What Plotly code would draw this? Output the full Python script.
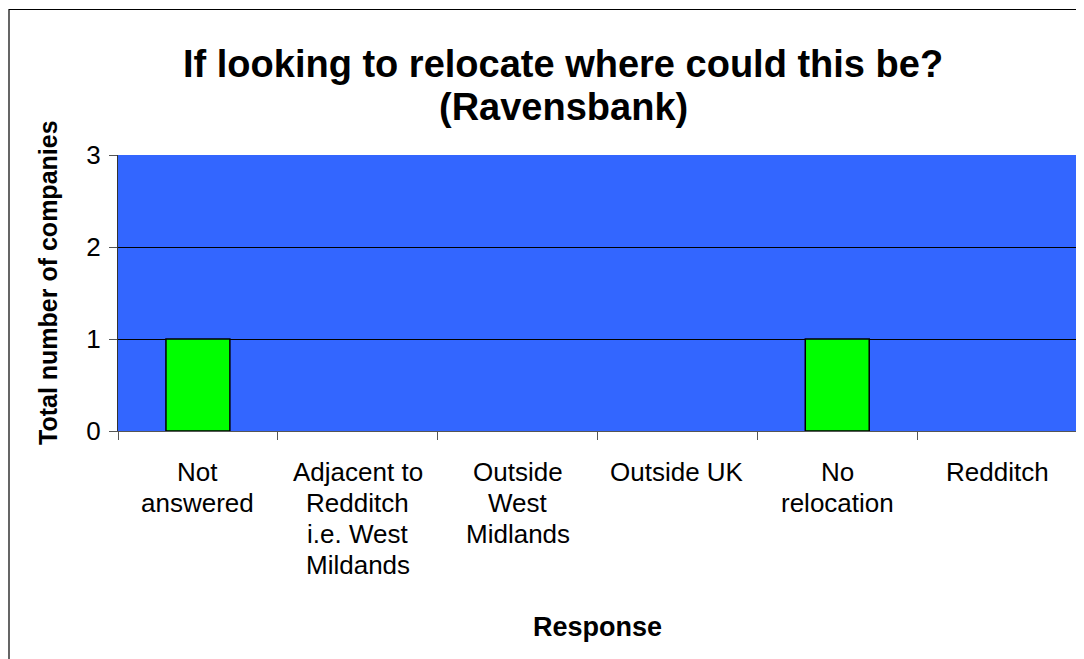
import plotly.graph_objects as go

categories = ["Not answered", "Adjacent to Redditch i.e. West Mildands", "Outside West Midlands",
              "Outside UK", "No relocation", "Redditch"]
tick_lines = [["Not", "answered"],
              ["Adjacent to", "Redditch", "i.e. West", "Mildands"],
              ["Outside", "West", "Midlands"],
              ["Outside UK"],
              ["No", "relocation"],
              ["Redditch"]]
values = [1, 0, 0, 0, 1, 0]
y_ticks = [0, 1, 2, 3]
title_lines = ["If looking to relocate where could this be?", "(Ravensbank)"]
x_title = "Response"
y_title = "Total number of companies"

FONT = "Liberation Sans, Arial, sans-serif"
W, H = 1084, 659
# page is rendered with an 8px body margin; plot area in page pixels is 118..1077 x 155..431
L, T = 110, 147
pw, ph = 959, 276
R, B = W - L - pw, H - T - ph


def px(rx):
    return (rx - 118) / pw


def py(ry):
    return (431 - ry) / ph


fig = go.Figure()
fig.add_trace(go.Bar(
    x=list(range(len(categories))), y=values, width=0.4,
    marker=dict(color="#00FF00",
                line=dict(color="black", width=[1.5 if v > 0 else 0 for v in values])),
    hovertext=categories,
))

annotations = []
for i, lines in enumerate(tick_lines):
    for j, line in enumerate(lines):
        annotations.append(dict(
            x=i, xref="x", y=0, yref="paper", yanchor="middle",
            yshift=-(41 + 31 * j), text=line, showarrow=False,
            font=dict(family=FONT, size=26, color="black"),
        ))

for k, (line, cy) in enumerate(zip(title_lines, [64, 107])):
    annotations.append(dict(
        x=px(563), xref="paper", y=py(cy), yref="paper",
        text="<b>%s</b>" % line, showarrow=False, yanchor="middle",
        font=dict(family=FONT, size=38, color="black"),
    ))

annotations.append(dict(
    x=px(597), xref="paper", y=py(627), yref="paper",
    text="<b>%s</b>" % x_title, showarrow=False, yanchor="middle",
    font=dict(family=FONT, size=27, color="black"),
))
annotations.append(dict(
    x=px(48), xref="paper", y=py(283), yref="paper", textangle=-90,
    text="<b>%s</b>" % y_title, showarrow=False, xanchor="center", yanchor="middle",
    font=dict(family=FONT, size=25, color="black"),
))

fig.update_layout(
    width=W, height=H,
    margin=dict(l=L, r=R, t=T, b=B),
    paper_bgcolor="white", plot_bgcolor="#3366FF",
    showlegend=False,
    font=dict(family=FONT, size=26, color="black"),
    annotations=annotations,
    shapes=[dict(type="rect", xref="paper", yref="paper",
                 x0=px(9), x1=2, y0=-2, y1=py(9.5),
                 line=dict(color="black", width=1.2), layer="below")],
)
fig.update_xaxes(
    range=[-0.5, 5.5], tickmode="array", tickvals=[i - 0.5 for i in range(7)],
    ticktext=[""] * 7, ticks="outside", ticklen=8, tickcolor="#555555",
    showline=True, linecolor="#555555", linewidth=1, showgrid=False, zeroline=False,
)
fig.update_yaxes(
    range=[0, 3], tickvals=y_ticks, ticks="outside", ticklen=8, tickcolor="#555555",
    showline=True, linecolor="#333333", linewidth=1,
    showgrid=True, gridcolor="black", gridwidth=1, zeroline=False,
    tickfont=dict(size=26), ticklabelstandoff=3,
)

fig.write_html("out.html")
